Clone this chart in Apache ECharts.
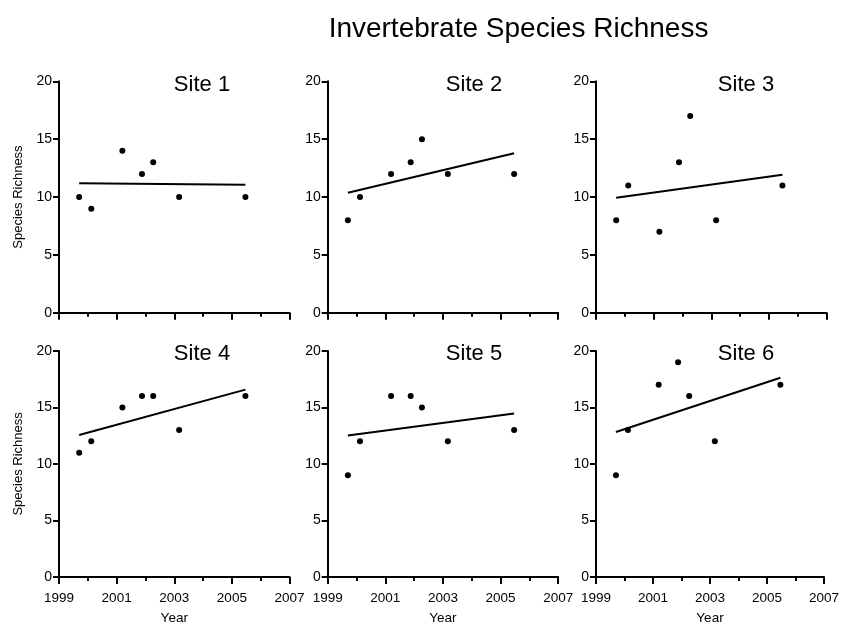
<!DOCTYPE html>
<html>
<head>
<meta charset="utf-8">
<script src="https://cdn.jsdelivr.net/npm/echarts@6/dist/echarts.min.js"></script>
<style>html,body{margin:0;padding:0;background:#fff}#c{width:842px;height:626px}</style>
</head>
<body>
<div id="c"></div>
<script>
// ---- data ----
const years = [1999.7, 2000.12, 2001.2, 2001.88, 2002.27, 2003.17, 2005.47];
const siteNames = ['Site 1', 'Site 2', 'Site 3', 'Site 4', 'Site 5', 'Site 6'];
const site1 = [10, 9, 14, 12, 13, 10, 10];
const site2 = [8, 10, 12, 13, 15, 12, 12];
const site3 = [8, 11, 7, 13, 17, 8, 11];
const site4 = [11, 12, 15, 16, 16, 13, 16];
const site5 = [9, 12, 16, 16, 15, 12, 13];
const site6 = [9, 13, 17, 19, 16, 12, 17];
const sites = [site1, site2, site3, site4, site5, site6];
const titleText = 'Invertebrate Species Richness';
const yName = 'Species Richness';
const xName = 'Year';

// ---- layout ----
const FONT = '"Liberation Sans", Arial, sans-serif';
const lefts = [59, 327.7, 596];
const tops = [81.3, 350.9];
const W = 230.5, H = 231.5;
const labelX = [202, 474, 746];
const labelY = [85, 354];

function fit(xs, ys) {
  const n = xs.length;
  const mx = xs.reduce((a, b) => a + b, 0) / n;
  const my = ys.reduce((a, b) => a + b, 0) / n;
  let sxy = 0, sxx = 0;
  for (let i = 0; i < n; i++) { sxy += (xs[i] - mx) * (ys[i] - my); sxx += (xs[i] - mx) ** 2; }
  const b = sxy / sxx, a = my - b * mx;
  const x0 = Math.min(...xs), x1 = Math.max(...xs);
  return [[x0, a + b * x0], [x1, a + b * x1]];
}

const grids = [], xAxes = [], yAxes = [], series = [], graphics = [];
for (let i = 0; i < 6; i++) {
  const r = Math.floor(i / 3), c = i % 3;
  grids.push({ left: lefts[c], top: tops[r], width: W, height: H });
  const bottomRow = r === 1;
  xAxes.push({
    type: 'value', gridIndex: i, min: 1999, max: 2007, interval: 2,
    axisLine: { show: true, lineStyle: { color: '#000', width: 2 } },
    axisTick: { show: true, length: 7, lineStyle: { color: '#000', width: 2 } },
    minorTick: { show: true, splitNumber: 2, length: 4, lineStyle: { color: '#000', width: 2 } },
    splitLine: { show: false },
    axisLabel: { show: bottomRow, color: '#000', fontSize: 13.5, fontFamily: FONT, margin: 14, formatter: v => String(v) },
    name: bottomRow ? xName : '', nameLocation: 'middle', nameGap: 34,
    nameTextStyle: { color: '#000', fontSize: 13.5, fontFamily: FONT }
  });
  yAxes.push({
    type: 'value', gridIndex: i, min: 0, max: 20, interval: 5,
    axisLine: { show: true, lineStyle: { color: '#000', width: 2 } },
    axisTick: { show: true, length: 6, lineStyle: { color: '#000', width: 2 } },
    splitLine: { show: false },
    axisLabel: { color: '#000', fontSize: 14, fontFamily: FONT, margin: 7 },
    name: c === 0 ? yName : '', nameLocation: 'middle', nameGap: 34, nameRotate: 90,
    nameTextStyle: { color: '#000', fontSize: 13, fontFamily: FONT }
  });
  series.push({
    type: 'scatter', xAxisIndex: i, yAxisIndex: i,
    data: years.map((x, k) => [x, sites[i][k]]),
    symbol: 'circle', symbolSize: 6, itemStyle: { color: '#000', opacity: 1 }, silent: true, z: 3
  });
  series.push({
    type: 'line', xAxisIndex: i, yAxisIndex: i,
    data: fit(years, sites[i]), symbol: 'none',
    lineStyle: { color: '#000', width: 2 }, silent: true, z: 2
  });
  graphics.push({
    type: 'text', x: labelX[c], y: labelY[r],
    style: { text: siteNames[i], fill: '#000', font: '22px ' + FONT, textAlign: 'center', textVerticalAlign: 'middle' }
  });
}
graphics.push({
  type: 'text', x: 518.5, y: 29,
  style: { text: titleText, fill: '#000', font: '28px ' + FONT, textAlign: 'center', textVerticalAlign: 'middle' }
});

const chart = echarts.init(document.getElementById('c'), null, { renderer: 'canvas' });
chart.setOption({
  animation: false,
  backgroundColor: '#fff',
  grid: grids, xAxis: xAxes, yAxis: yAxes, series: series, graphic: graphics
});
</script>
</body>
</html>
